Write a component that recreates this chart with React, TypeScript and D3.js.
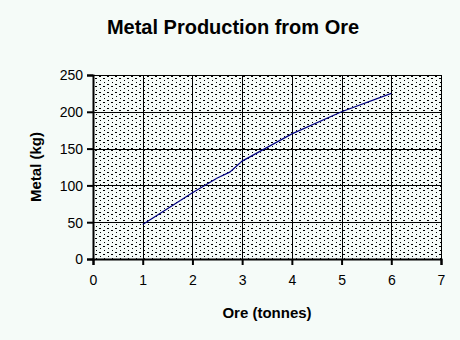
import React, { useEffect, useRef } from "react";
import * as d3 from "d3";

const oreTonnes = [1, 2, 2.5, 2.75, 3, 4, 5, 6];
const metalKg = [47, 90, 110, 118, 133, 170, 200, 225];
const xTicks = [0, 1, 2, 3, 4, 5, 6, 7];
const yTicks = [0, 50, 100, 150, 200, 250];
const title = "Metal Production from Ore";
const xTitle = "Ore (tonnes)";
const yTitle = "Metal (kg)";

const W = 460, H = 340;
const M = { left: 93, right: 441, top: 75, bottom: 259 };
const BG = "#f5fbf8";
const FONT = "Arial, 'Liberation Sans', sans-serif";

export default function App() {
  const ref = useRef<SVGSVGElement>(null);
  useEffect(() => {
    const svg = d3.select(ref.current);
    svg.selectAll("*").remove();
    const x = d3.scaleLinear().domain([0, 7]).range([M.left, M.right]);
    const y = d3.scaleLinear().domain([0, 250]).range([M.bottom, M.top]);

    const defs = svg.append("defs");
    const pat = defs.append("pattern").attr("id", "dots").attr("patternUnits", "userSpaceOnUse")
      .attr("width", 8).attr("height", 8).attr("x", M.left + 2).attr("y", M.top + 3);
    pat.append("rect").attr("width", 8).attr("height", 8).attr("fill", BG);
    const pts: [number, number, number, number][] = [
      [0, 0, 2, 1], [5, 2, 1, 1], [1, 4, 1, 1], [4, 6, 2, 1],
    ];
    pts.forEach(([px, py, w, h]) => pat.append("rect").attr("x", px).attr("y", py).attr("width", w).attr("height", h).attr("fill", "#000"));

    svg.append("rect").attr("width", W).attr("height", H).attr("fill", BG);
    svg.append("rect").attr("x", M.left).attr("y", M.top).attr("width", M.right - M.left).attr("height", M.bottom - M.top)
      .attr("fill", "url(#dots)");

    // grid
    const g = svg.append("g").attr("shape-rendering", "crispEdges");
    yTicks.forEach((t) => {
      g.append("line").attr("x1", M.left).attr("x2", M.right).attr("y1", Math.round(y(t)) + 0.5).attr("y2", Math.round(y(t)) + 0.5)
        .attr("stroke", "#000").attr("stroke-width", 1);
    });
    xTicks.forEach((t) => {
      g.append("line").attr("y1", M.top).attr("y2", M.bottom).attr("x1", Math.round(x(t)) + 0.5).attr("x2", Math.round(x(t)) + 0.5)
        .attr("stroke", "#000").attr("stroke-width", 1);
    });

    // axes
    const yAxis = d3.axisLeft(y).tickValues(yTicks).tickSize(6).tickPadding(4).tickFormat(d3.format("d"));
    const xAxis = d3.axisBottom(x).tickValues(xTicks).tickSize(6).tickPadding(10).tickFormat(d3.format("d"));
    const ya = svg.append("g").attr("transform", `translate(${M.left},0)`).call(yAxis);
    const xa = svg.append("g").attr("transform", `translate(0,${M.bottom})`).call(xAxis);
    [ya, xa].forEach((a) => {
      a.select(".domain").attr("stroke", "#000").attr("stroke-width", 2);
      a.selectAll(".tick line").attr("stroke", "#000").attr("stroke-width", 2);
      a.selectAll(".tick text").attr("font-family", FONT).attr("font-size", 14).attr("fill", "#000");
    });
    ya.selectAll(".tick text").attr("dy", "0.35em");

    // line
    const data = oreTonnes.map((o, i) => [o, metalKg[i]] as [number, number]);
    svg.append("path").datum(data).attr("fill", "none").attr("stroke", "#000080").attr("stroke-width", 1.2)
      .attr("d", d3.line<[number, number]>().x((d) => x(d[0])).y((d) => y(d[1])));

    // titles
    svg.append("text").attr("x", 233).attr("y", 34).attr("text-anchor", "middle").attr("font-family", FONT)
      .attr("font-weight", "bold").attr("font-size", 20).text(title);
    svg.append("text").attr("x", 267).attr("y", 318).attr("text-anchor", "middle").attr("font-family", FONT)
      .attr("font-weight", "bold").attr("font-size", 15).text(xTitle);
    svg.append("text").attr("transform", `translate(41,${(M.top + M.bottom) / 2}) rotate(-90)`).attr("text-anchor", "middle")
      .attr("font-family", FONT).attr("font-weight", "bold").attr("font-size", 15).text(yTitle);
  }, []);
  return (
    <svg ref={ref} width={W} height={H} style={{ display: "block", position: "absolute", left: 0, top: 0 }} />
  );
}
